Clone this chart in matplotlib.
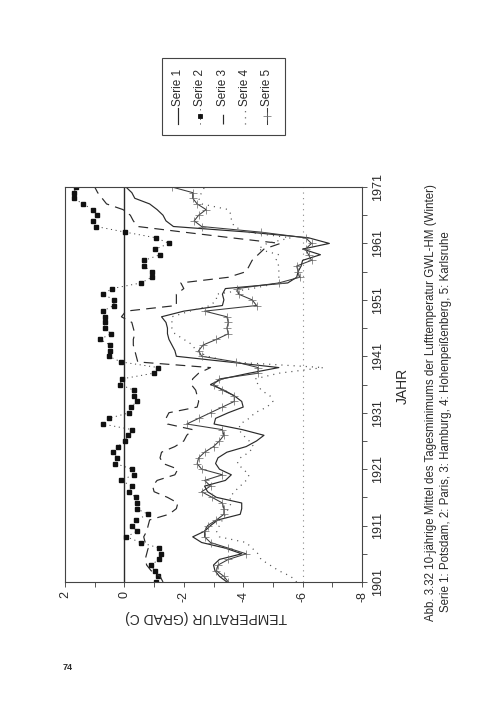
import matplotlib
matplotlib.use('Agg')
import matplotlib.pyplot as plt
from matplotlib.lines import Line2D
from matplotlib.patches import Rectangle
from matplotlib.ticker import FixedLocator

plt.rcParams['font.family'] = ['Liberation Sans', 'DejaVu Sans']
plt.rcParams['lines.scale_dashes'] = False

# ---------------- data ----------------
years = list(range(1901, 1972))

serie1 = [-3.45, -3.2, -3.05, -3.0, -3.2, -3.95, -3.4, -2.6, -2.3, -2.7,
          -2.9, -3.15, -3.9, -3.95, -3.95, -3.1, -2.8, -2.7, -3.4, -3.6,
          -3.2, -3.07, -3.15, -3.45, -4.1, -4.45, -4.7, -3.97, -3.02, -3.07,
          -3.5, -4.0, -3.95, -3.7, -3.35, -2.9, -3.3, -4.2, -5.2, -3.5,
          -1.75, -1.7, -1.6, -1.5, -1.45, -1.45, -1.4, -1.25, -2.0, -3.3,
          -3.35, -3.3, -3.4, -5.5, -5.8, -5.85, -5.95, -6.0, -6.6, -6.0,
          -6.9, -6.2, -4.2, -1.65, -1.4, -1.3, -1.1, -0.85, -0.35, -0.25,
          -0.05]

serie2 = [-1.08, -1.12, -1.02, -0.89, -1.17, -1.23, -1.18, -0.55, -0.07, -0.42,
          -0.25, -0.40, -0.80, -0.41, -0.42, -0.38, -0.15, -0.25, 0.12, -0.31,
          -0.26, 0.31, 0.25, 0.37, 0.22, -0.02, -0.11, -0.26, 0.73, 0.53,
          -0.17, -0.22, -0.42, -0.32, -0.31, 0.15, 0.08, -0.98, -1.14, 0.11,
          0.53, 0.50, 0.48, 0.82, 0.45, 0.67, 0.67, 0.67, 0.73, 0.36,
          0.34, 0.73, 0.41, -0.56, -0.92, -0.92, -0.65, -0.67, -1.20, -1.04,
          -1.51, -1.06, -0.03, 0.95, 1.06, 0.92, 1.06, 1.40, 1.70, 1.70,
          1.62]

serie3 = [-1.3, -1.2, -0.9, -0.75, -0.7, -0.75, -0.8, -0.7, -0.65, -0.75,
          -0.8, -0.85, -1.5, -1.75, -1.8, -1.45, -1.0, -0.95, -1.1, -1.7,
          -1.8, -1.3, -1.2, -1.25, -1.7, -2.0, -2.1, -2.3, -1.45, -1.4,
          -1.5, -2.45, -2.5, -2.45, -2.4, -2.25, -2.3, -2.5, -2.9, -0.45,
          -0.4, -0.35, -0.3, -0.3, -0.35, -0.3, -0.25, 0.1, -0.05, -1.75,
          -1.75, -1.75, -2.0, -1.9, -3.5, -4.1, -4.2, -4.3, -4.5, -4.7,
          -5.25, -3.6, -2.0, -0.45, -0.3, -0.2, 0.05, 0.6, 0.75, 0.9,
          1.0]

serie4 = [-5.8, -5.6, -5.2, -4.9, -4.6, -4.5, -4.3, -4.1, -3.2, -3.1,
          -3.2, -3.3, -3.4, -3.5, -3.6, -3.55, -3.7, -3.9, -4.1, -4.2,
          -4.0, -3.8, -3.9, -4.2, -4.35, -4.2, -4.0, -3.85, -3.9, -4.2,
          -4.4, -4.8, -5.0, -4.9, -4.6, -4.5, -4.4, -5.2, -6.7, -3.6,
          -2.8, -2.4, -2.3, -2.0, -1.7, -1.6, -1.6, -1.6, -2.2, -2.9,
          -3.1, -3.1, -4.3, -5.2, -5.2, -5.2, -5.2, -5.1, -5.2, -4.5,
          -4.8, -5.6, -4.1, -3.7, -3.6, -3.6, -3.5, -2.6, -2.5, -2.6,
          -2.7]

serie5 = [-3.5, -3.35, -3.1, -3.15, -3.5, -4.1, -3.5, -2.9, -2.7, -2.7,
          -2.8, -3.1, -3.35, -3.35, -3.3, -2.95, -2.6, -2.9, -2.7, -3.3,
          -2.6, -2.45, -2.5, -2.7, -3.0, -3.2, -3.35, -3.3, -2.1, -2.5,
          -2.9, -3.3, -3.7, -3.7, -3.3, -3.0, -3.2, -4.5, -4.5, -3.75,
          -2.6, -2.5, -2.65, -3.1, -3.5, -3.45, -3.5, -3.45, -2.7, -4.45,
          -4.3, -3.85, -3.8, -5.2, -5.9, -5.85, -5.8, -6.3, -6.2, -6.1,
          -6.3, -6.1, -4.6, -2.6, -2.35, -2.5, -2.75, -2.45, -2.3, -2.3,
          -1.6]

series_labels = ['Serie 1', 'Serie 2', 'Serie 3', 'Serie 4', 'Serie 5']
year_ticks = [1901, 1911, 1921, 1931, 1941, 1951, 1961, 1971]
year_minor = [1906, 1916, 1926, 1936, 1946, 1956, 1966]
temp_ticks = [2, 0, -2, -4, -6, -8]
temp_minor = [1, -1, -3, -5, -7]
caption1 = 'Abb. 3.32 10-jährige Mittel des Tagesminimums der Lufttemperatur GWL-HM (Winter)'
caption2 = 'Serie 1: Potsdam, 2: Paris, 3: Hamburg, 4: Hohenpeißenberg, 5: Karlsruhe'

# ---------------- figure ----------------
W, H = 504, 712
fig = plt.figure(figsize=(W / 100, H / 100), dpi=100)
fig.patch.set_facecolor('white')

ink = '#2a2a2a'
grey = '#555555'

ax = fig.add_axes([65 / W, 1 - 582 / H, 297 / W, 395 / H])

# reference lines
ax.axvline(0, color=ink, lw=1.0, zorder=1)
ax.axvline(-6, color='#888888', lw=0.8, dashes=(0.8, 3.2), zorder=1)

# series (chart rotated: temperature horizontal, years vertical)
styles = [
    dict(color=ink, lw=0.85),
    dict(color='#444444', lw=0.7, dashes=(0.8, 2.6), marker='s', markersize=2.6,
         markerfacecolor='#111111', markeredgecolor='#111111'),
    dict(color=ink, lw=0.85, dashes=(7, 4.5)),
    dict(color=grey, lw=0.9, dashes=(0.8, 3.6)),
    dict(color='#3a3a3a', lw=0.75, marker='+', markersize=6, markeredgewidth=0.5,
         markeredgecolor='#666666'),
]
for vals, st in zip([serie1, serie2, serie3, serie4, serie5], styles):
    ax.plot(vals, years, **st)

ax.set_xlim(2, -8)
ax.set_ylim(1901, 1971)

ax.set_xticks(temp_ticks)
ax.set_xticklabels([str(t) for t in temp_ticks], rotation=90, fontsize=9,
                   color=ink)
ax.xaxis.set_minor_locator(FixedLocator(temp_minor))

ax.yaxis.tick_right()
ax.set_yticks(year_ticks)
ax.set_yticklabels([str(y) for y in year_ticks], fontsize=9, color=ink)
for lbl in ax.get_yticklabels():
    lbl.set_rotation(90)
    lbl.set_va('center')
ax.yaxis.set_minor_locator(FixedLocator(year_minor))

ax.tick_params(axis='x', which='both', direction='out', length=3.5,
               width=0.7, color=grey, pad=3, bottom=True, top=False)
ax.tick_params(axis='y', which='both', direction='out', length=3.5,
               width=0.7, color=grey, pad=4, left=False, right=True)

for sp in ax.spines.values():
    sp.set_color('#444444')
    sp.set_linewidth(0.8)

# axis titles (rotated with the page)
fig.text(206 / W, 1 - 617 / H, 'TEMPERATUR (GRAD C)', rotation=180,
         ha='center', va='center', fontsize=10, color=ink)
fig.text(403 / W, 1 - 386 / H, 'JAHR', rotation=90,
         ha='center', va='center', fontsize=10, color=ink)

# caption
fig.text(431 / W, 1 - 621 / H, caption1, rotation=90, ha='center',
         va='bottom', fontsize=8.3, color=ink)
fig.text(446 / W, 1 - 612 / H, caption2, rotation=90, ha='center',
         va='bottom', fontsize=8.3, color=ink)

# legend (rotated box above the plot)
fig.add_artist(Rectangle((162 / W, 1 - 135 / H), 123 / W, 77 / H,
                         transform=fig.transFigure, fill=False,
                         edgecolor='#444444', lw=0.8))
leg_x = [178, 200, 223, 245, 267]
for xp, lab, st in zip(leg_x, series_labels, styles):
    kw = dict(st)
    mk = kw.pop('marker', None)
    ms = kw.pop('markersize', None)
    mfc = kw.pop('markerfacecolor', None)
    mec = kw.pop('markeredgecolor', None)
    mew = kw.pop('markeredgewidth', None)
    fig.add_artist(Line2D([xp / W, xp / W], [1 - 124 / H, 1 - 108 / H],
                          transform=fig.transFigure, **kw))
    if mk is not None:
        fig.add_artist(Line2D([xp / W], [1 - 116 / H], transform=fig.transFigure,
                              linestyle='none', marker=mk, markersize=ms,
                              markerfacecolor=mfc if mfc else kw['color'],
                              markeredgecolor=mec if mec else kw['color'],
                              markeredgewidth=mew if mew else 0.6))
    fig.text(xp / W, 1 - 106 / H, lab, rotation=90, ha='center', va='bottom',
             fontsize=8.5, color=ink)

# page number
fig.text(68 / W, 1 - 668 / H, '74', ha='center', va='center', fontsize=6.5,
         fontweight='bold', color=ink)

fig.savefig('out.png', dpi=100, facecolor='white')
